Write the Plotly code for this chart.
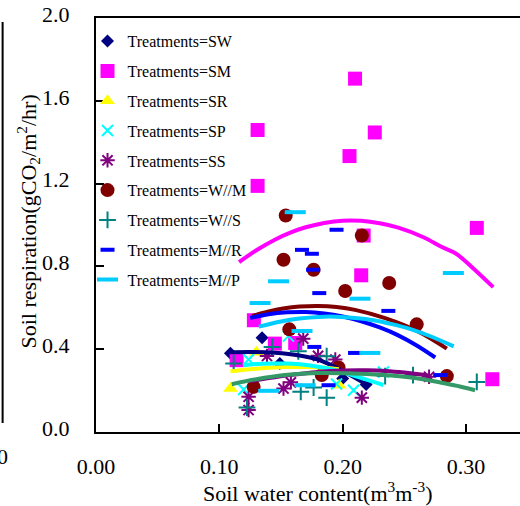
import plotly.graph_objects as go

# ---------------- data ----------------
treatments = ["SW", "SM", "SR", "SP", "SS", "W//M", "W//S", "M//R", "M//P"]

# observed points
sw_x = [0.109, 0.1346, 0.149, 0.200, 0.219]
sw_y = [0.380, 0.455, 0.331, 0.259, 0.230]

sm_x = [0.114, 0.128, 0.131, 0.131, 0.145, 0.1615, 0.2055, 0.210, 0.215, 0.217, 0.226, 0.3087, 0.3213]
sm_y = [0.347, 0.540, 1.459, 1.189, 0.427, 0.430, 1.333, 1.707, 0.757, 0.949, 1.447, 0.986, 0.255]

sr_x = [0.109, 0.130, 0.197]
sr_y = [0.210, 0.385, 0.226]

sp_x = [0.1197, 0.1237, 0.156, 0.195, 0.2088, 0.233]
sp_y = [0.205, 0.350, 0.463, 0.232, 0.202, 0.290]

ss_x = [0.1237, 0.1237, 0.1386, 0.152, 0.158, 0.168, 0.180, 0.194, 0.2155, 0.270]
ss_y = [0.170, 0.106, 0.367, 0.210, 0.240, 0.451, 0.368, 0.350, 0.166, 0.267]

wm_x = [0.1278, 0.152, 0.1538, 0.1567, 0.1764, 0.183, 0.1966, 0.202, 0.2155, 0.2377, 0.260, 0.2844]
wm_y = [0.218, 0.832, 1.046, 0.496, 0.784, 0.275, 0.312, 0.681, 0.949, 0.720, 0.520, 0.270]

ws_x = [0.1116, 0.1224, 0.1427, 0.164, 0.166, 0.1764, 0.187, 0.187, 0.2344, 0.257, 0.3087]
ws_y = [0.331, 0.118, 0.411, 0.390, 0.194, 0.215, 0.166, 0.366, 0.270, 0.275, 0.242]

mr_x = [0.167, 0.175, 0.176, 0.177, 0.181, 0.1885, 0.195, 0.210, 0.237, 0.279]
mr_y = [0.880, 0.861, 0.784, 0.411, 0.671, 0.226, 0.977, 0.382, 0.585, 0.275]

mp_x = [0.133, 0.140, 0.148, 0.1615, 0.167, 0.1696, 0.214, 0.222, 0.2897]
mp_y = [0.623, 0.199, 0.728, 1.062, 0.488, 0.226, 0.644, 0.382, 0.768]

# fitted curves
sw_fx = [0.108, 0.125, 0.145, 0.165, 0.180, 0.190, 0.200, 0.210, 0.221]
sw_fy = [0.385, 0.387, 0.383, 0.370, 0.350, 0.325, 0.295, 0.262, 0.222]

sm_fx = [0.116, 0.130, 0.145, 0.1575, 0.170, 0.185, 0.200, 0.215, 0.230, 0.245, 0.2654, 0.280, 0.292, 0.305, 0.322]
sm_fy = [0.821, 0.878, 0.929, 0.963, 0.989, 1.010, 1.021, 1.020, 1.008, 0.987, 0.941, 0.895, 0.861, 0.795, 0.700]

sr_fx = [0.109, 0.125, 0.140, 0.155, 0.170, 0.185, 0.197]
sr_fy = [0.293, 0.303, 0.310, 0.314, 0.314, 0.310, 0.303]

sp_fx = [0.1197, 0.135, 0.153, 0.165, 0.180, 0.195, 0.2074, 0.220, 0.233]
sp_fy = [0.323, 0.330, 0.331, 0.327, 0.315, 0.297, 0.275, 0.252, 0.227]

ss_fx = [0.124, 0.145, 0.165, 0.180, 0.200, 0.220, 0.235, 0.250, 0.270]
ss_fy = [0.245, 0.265, 0.280, 0.290, 0.297, 0.298, 0.295, 0.287, 0.272]

wm_fx = [0.1265, 0.140, 0.153, 0.165, 0.180, 0.195, 0.210, 0.2344, 0.2614, 0.2844]
wm_fy = [0.560, 0.582, 0.598, 0.606, 0.609, 0.604, 0.590, 0.550, 0.485, 0.403]

ws_fx = [0.110, 0.130, 0.153, 0.179, 0.2074, 0.230, 0.248, 0.265, 0.280, 0.295, 0.3073]
ws_fy = [0.231, 0.255, 0.275, 0.285, 0.283, 0.277, 0.268, 0.255, 0.238, 0.220, 0.202]

mr_fx = [0.125, 0.140, 0.155, 0.170, 0.185, 0.200, 0.215, 0.230, 0.245, 0.260, 0.275]
mr_fy = [0.551, 0.569, 0.578, 0.580, 0.573, 0.558, 0.535, 0.505, 0.467, 0.418, 0.360]

mp_fx = [0.132, 0.150, 0.165, 0.180, 0.195, 0.210, 0.225, 0.240, 0.255, 0.270, 0.290]
mp_fy = [0.509, 0.534, 0.548, 0.556, 0.557, 0.551, 0.540, 0.521, 0.497, 0.465, 0.414]

x_ticks = [0.0, 0.1, 0.2, 0.3]
y_ticks = [0.0, 0.4, 0.8, 1.2, 1.6, 2.0]

# ---------------- styles ----------------
pts = [(sw_x, sw_y), (sm_x, sm_y), (sr_x, sr_y), (sp_x, sp_y), (ss_x, ss_y),
       (wm_x, wm_y), (ws_x, ws_y), (mr_x, mr_y), (mp_x, mp_y)]
fits = [(sw_fx, sw_fy), (sm_fx, sm_fy), (sr_fx, sr_fy), (sp_fx, sp_fy), (ss_fx, ss_fy),
        (wm_fx, wm_fy), (ws_fx, ws_fy), (mr_fx, mr_fy), (mp_fx, mp_fy)]
marker_styles = [
    dict(symbol="diamond", size=10, color="#000080"),
    dict(symbol="square", size=14, color="#FF00FF"),
    dict(symbol="triangle-up", size=13, color="#FFFF00"),
    dict(symbol="x-thin", size=11, color="#00FFFF", line=dict(color="#00FFFF", width=2)),
    dict(symbol="asterisk", size=12, color="#800080", line=dict(color="#800080", width=2)),
    dict(symbol="circle", size=14, color="#800000"),
    dict(symbol="cross-thin", size=12, color="#008080", line=dict(color="#008080", width=2)),
    dict(symbol="line-ew", size=10, color="#0000FF", line=dict(color="#0000FF", width=4)),
    dict(symbol="line-ew", size=15, color="#00CCFF", line=dict(color="#00CCFF", width=4)),
]
line_colors = ["#000080", "#FF00FF", "#FFFF00", "#00FFFF", "#800080",
               "#800000", "#339966", "#0000FF", "#00CCFF"]

fig = go.Figure()
for i, t in enumerate(treatments):
    fig.add_trace(go.Scatter(
        x=pts[i][0], y=pts[i][1], mode="markers", name="Treatments=" + t,
        marker=marker_styles[i], legendgroup=t, showlegend=True))
for i, t in enumerate(treatments):
    fig.add_trace(go.Scatter(
        x=fits[i][0], y=fits[i][1], mode="lines", line=dict(color=line_colors[i], width=4, shape="spline"),
        legendgroup=t, showlegend=False, hoverinfo="skip"))

FONT = "Liberation Serif"

fig.update_layout(
    width=520, height=506,
    margin=dict(l=95.5, r=0, t=18, b=74, autoexpand=False),
    paper_bgcolor="white", plot_bgcolor="white",
    font=dict(family=FONT, color="black"),
    showlegend=True,
    legend=dict(x=-0.02, y=0.985, xanchor="left", yanchor="top",
                font=dict(family=FONT, size=16, color="black"),
                bgcolor="rgba(0,0,0,0)", tracegroupgap=6, itemwidth=30),
    xaxis=dict(range=[0, (520 - 95.5) / 1235], tickvals=x_ticks, tickformat=".2f",
               showgrid=False, zeroline=False, showline=True, linecolor="black", linewidth=2,
               mirror=True, ticks="inside", ticklen=8, tickwidth=2, tickcolor="black",
               tickfont=dict(family=FONT, size=22), ticklabelstandoff=14),
    yaxis=dict(range=[0, 2.0], tickvals=y_ticks, tickformat=".1f",
               showgrid=False, zeroline=False, showline=True, linecolor="black", linewidth=2,
               ticks="inside", ticklen=8, tickwidth=2, tickcolor="black",
               tickfont=dict(family=FONT, size=22), ticklabelstandoff=20, ticklabelshift=-4),
    annotations=[
        dict(text="Soil respiration(gCO<sub>2</sub>/m<sup>2</sup>/hr)", textangle=-90,
             xref="paper", yref="paper", x=(27 - 95.5) / 424.5, y=(432 - 222) / 414,
             xanchor="center", yanchor="middle", showarrow=False,
             font=dict(family=FONT, size=22)),
        dict(text="Soil water content(m<sup>3</sup>m<sup>-3</sup>)",
             xref="paper", yref="paper", x=(318 - 95.5) / 424.5, y=(432 - 492) / 414,
             xanchor="center", yanchor="middle", showarrow=False,
             font=dict(family=FONT, size=22)),
        dict(text="0", xref="paper", yref="paper", x=(2 - 95.5) / 424.5, y=(432 - 456) / 414,
             xanchor="center", yanchor="middle", showarrow=False,
             font=dict(family=FONT, size=22)),
    ],
    shapes=[
        dict(type="line", xref="paper", yref="paper",
             x0=(2 - 95.5) / 424.5, x1=(2 - 95.5) / 424.5,
             y0=(432 - 423) / 414, y1=(432 - 22) / 414,
             line=dict(color="black", width=2)),
    ],
)

fig.write_html("out.html", config={"displayModeBar": False},
               post_script="document.body.style.margin='0';document.body.style.padding='0';")
